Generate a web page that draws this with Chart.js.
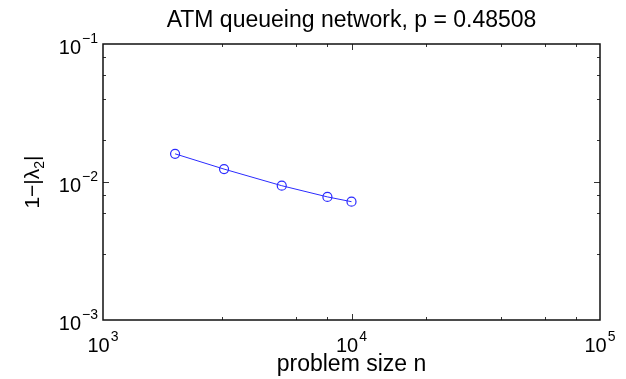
<!DOCTYPE html>
<html>
<head>
<meta charset="utf-8">
<script src="https://cdn.jsdelivr.net/npm/chart.js@4.4.1/dist/chart.umd.min.js"></script>
<style>
html, body { margin:0; padding:0; background:#fff; }
#wrap { width:626px; height:379px; }
</style>
</head>
<body>
<div id="wrap"><canvas id="gapChart" width="626" height="379"></canvas></div>
<script>
// values
const problemSizes = [1950, 3070, 5240, 8000, 10000];
const spectralGaps = [0.0160, 0.0124, 0.0094, 0.0078, 0.0072];
const xRange = [1e3, 1e5];
const yRange = [1e-3, 1e-1];
const chartTitle = 'ATM queueing network, p = 0.48508';
const xTitle = 'problem size n';

const FONT = '"Liberation Sans", Arial, Helvetica, sans-serif';
const font = px => px + 'px ' + FONT;
const isPow10 = v => Math.abs(Math.log10(v) - Math.round(Math.log10(v))) < 1e-6;
const expText = v => { const e = Math.round(Math.log10(v)); return (e < 0 ? '\u2212' : '') + Math.abs(e); };

// "10" with a raised exponent, left is the left edge
function drawPow(ctx, v, left, base) {
    ctx.font = font(20);
    ctx.fillText('10', left, base);
    const w = ctx.measureText('10').width;
    ctx.font = font(14);
    ctx.fillText(expText(v), left + w + 1, base - 11);
}
function powWidth(ctx, v) {
    ctx.font = font(20);
    const w = ctx.measureText('10').width;
    ctx.font = font(14);
    return w + 1 + ctx.measureText(expText(v)).width;
}

const matlabAxes = {
    id: 'matlabAxes',
    afterDraw(chart) {
        const { ctx, chartArea: a, scales: { x, y } } = chart;
        ctx.save();

        // inward ticks on all four sides
        ctx.strokeStyle = '#333'; ctx.lineWidth = 1;
        ctx.beginPath();
        x.ticks.forEach(t => {
            const px = Math.round(x.getPixelForValue(t.value)) + 0.5;
            if (px <= a.left + 2 || px >= a.right - 2) return;
            const len = isPow10(t.value) ? 6 : 3;
            ctx.moveTo(px, a.bottom); ctx.lineTo(px, a.bottom - len);
            ctx.moveTo(px, a.top); ctx.lineTo(px, a.top + len);
        });
        y.ticks.forEach(t => {
            const py = Math.round(y.getPixelForValue(t.value)) + 0.5;
            if (py <= a.top + 2 || py >= a.bottom - 2) return;
            const len = isPow10(t.value) ? 6 : 3;
            ctx.moveTo(a.left, py); ctx.lineTo(a.left + len, py);
            ctx.moveTo(a.right, py); ctx.lineTo(a.right - len, py);
        });
        ctx.stroke();

        ctx.strokeStyle = '#111'; ctx.lineWidth = 1.5;
        ctx.strokeRect(a.left, a.top, a.right - a.left, a.bottom - a.top);

        // tick labels
        ctx.fillStyle = '#000';
        ctx.textBaseline = 'alphabetic';
        ctx.textAlign = 'left';
        x.ticks.filter(t => isPow10(t.value)).forEach(t => {
            const px = x.getPixelForValue(t.value);
            drawPow(ctx, t.value, px - powWidth(ctx, t.value) / 2, a.bottom + 32);
        });
        y.ticks.filter(t => isPow10(t.value)).forEach(t => {
            const py = y.getPixelForValue(t.value);
            drawPow(ctx, t.value, a.left - 5 - powWidth(ctx, t.value), py + 10);
        });

        // title and x label
        const cx = (a.left + a.right) / 2;
        ctx.textAlign = 'center';
        ctx.font = font(23);
        ctx.fillText(chartTitle, cx, 27);
        ctx.fillText(xTitle, cx, a.bottom + 51);

        // y label: 1-|lambda_2|
        ctx.translate(39, (a.top + a.bottom) / 2);
        ctx.rotate(-Math.PI / 2);
        ctx.textAlign = 'left';
        ctx.font = font(21);
        const p1 = '1\u2212|\u03bb', p3 = '|';
        const w1 = ctx.measureText(p1).width, w3 = ctx.measureText(p3).width;
        ctx.font = font(14);
        const w2 = ctx.measureText('2').width;
        const sx = -(w1 + w2 + w3) / 2;
        ctx.font = font(21);
        ctx.fillText(p1, sx, 0);
        ctx.font = font(14);
        ctx.fillText('2', sx + w1, 5);
        ctx.font = font(21);
        ctx.fillText(p3, sx + w1 + w2, 0);

        ctx.restore();
    }
};

new Chart(document.getElementById('gapChart'), {
    type: 'scatter',
    data: {
        datasets: [{
            data: problemSizes.map((n, i) => ({ x: n, y: spectralGaps[i] })),
            showLine: true,
            borderColor: '#2b2bff',
            borderWidth: 1,
            pointRadius: 4.5,
            pointBorderWidth: 1.2,
            pointBorderColor: '#2b2bff',
            pointBackgroundColor: 'rgba(0,0,0,0)'
        }]
    },
    options: {
        responsive: false,
        animation: false,
        events: [],
        layout: { padding: { left: 103, top: 44, right: 26, bottom: 59 } },
        plugins: { legend: { display: false }, tooltip: { enabled: false }, title: { display: false } },
        scales: {
            x: { type: 'logarithmic', min: xRange[0], max: xRange[1], display: false },
            y: { type: 'logarithmic', min: yRange[0], max: yRange[1], display: false }
        }
    },
    plugins: [matlabAxes]
});
</script>
</body>
</html>
